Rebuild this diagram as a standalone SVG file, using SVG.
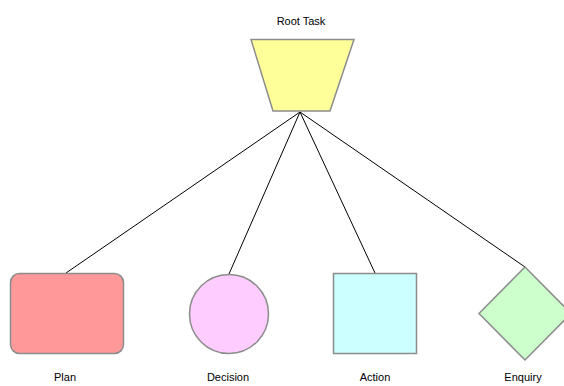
<svg xmlns="http://www.w3.org/2000/svg" width="564" height="386" viewBox="0 0 564 386">
<style>
.s{stroke:#8c8c8c;stroke-width:1.5}
.t{font-family:"Liberation Sans",Arial,sans-serif;font-size:11px;fill:#000;text-anchor:middle}
.c{stroke:#000;stroke-width:1;fill:none}
</style>
<rect width="564" height="386" fill="#fff"/>
<g id="connectors">
<line class="c" x1="300" y1="112" x2="66" y2="273"/>
<line class="c" x1="300" y1="112" x2="229" y2="274"/>
<line class="c" x1="300" y1="112" x2="375" y2="273"/>
<line class="c" x1="300" y1="112" x2="525" y2="267"/>
</g>
<g id="root">
<polygon class="s" points="251,39.5 354,39.5 330,111 273,111" fill="#ffff99"/>
<text class="t" x="301" y="25">Root Task</text>
</g>
<g id="plan">
<rect class="s" x="10.5" y="273.5" width="113" height="80" rx="9" fill="#ff9999"/>
<text class="t" x="65" y="381">Plan</text>
</g>
<g id="decision">
<circle class="s" cx="229" cy="314" r="39.5" fill="#ffccff"/>
<text class="t" x="228" y="381">Decision</text>
</g>
<g id="action">
<rect class="s" x="333.5" y="273.5" width="83" height="80" fill="#ccffff"/>
<text class="t" x="375" y="381">Action</text>
</g>
<g id="enquiry">
<polygon class="s" points="525,267 571,313.5 525,360 479,313.5" fill="#ccffcc"/>
<text class="t" x="523" y="381">Enquiry</text>
</g>
</svg>
